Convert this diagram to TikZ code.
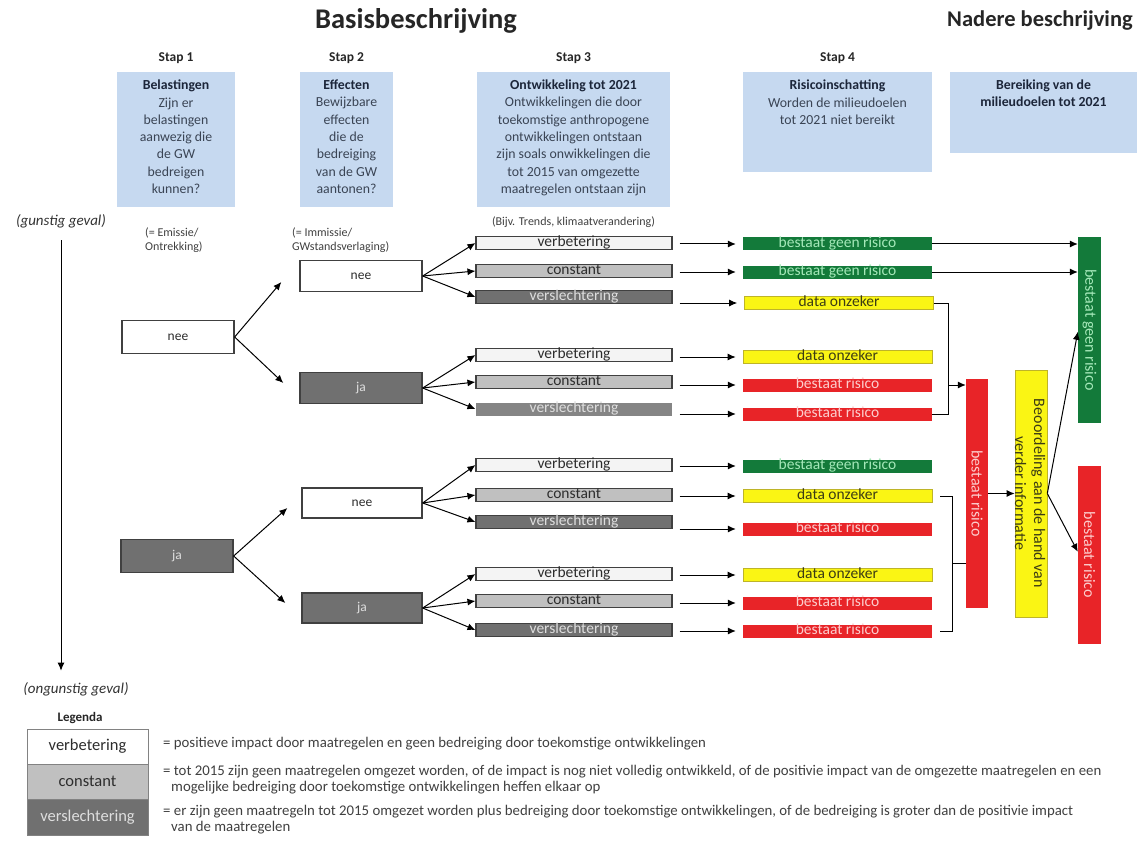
\documentclass[tikz,border=0pt]{standalone}
\usepackage{fontspec}
\setmainfont{Carlito}
\usetikzlibrary{calc,arrows.meta}
\pgfdeclarelayer{bg}
\pgfsetlayers{bg,main}
\definecolor{bluefill}{RGB}{198,217,240}
\definecolor{bluehead}{RGB}{28,38,58}
\definecolor{bluebody}{RGB}{58,68,84}
\definecolor{gfill}{RGB}{19,122,58}
\definecolor{gtext}{RGB}{165,232,185}
\definecolor{yfill}{RGB}{250,245,20}
\definecolor{ybord}{RGB}{190,180,40}
\definecolor{ytext}{RGB}{60,60,20}
\definecolor{rfill}{RGB}{232,36,40}
\definecolor{rtext}{RGB}{252,205,205}
\definecolor{dgray}{RGB}{112,112,112}
\definecolor{mgray}{RGB}{192,192,192}
\definecolor{lgray}{RGB}{244,244,244}
\definecolor{bord}{RGB}{64,64,64}
\definecolor{darktext}{RGB}{45,45,45}
\definecolor{palegray}{RGB}{222,222,222}
\definecolor{legbord}{RGB}{130,130,130}
\begin{document}
\begin{tikzpicture}[x=1pt,y=-1pt,
  arr/.style={-{Latex[length=8pt,width=7pt]}, line width=1pt},
  ln/.style={line width=1pt},
  bluebox/.style={fill=bluefill, draw=none, inner sep=0},
  bluetxt/.style={align=center, text=bluebody, font=\fontsize{13.8}{17.3}\selectfont, inner sep=0, anchor=north},
  stap/.style={font=\bfseries\fontsize{13.5}{15}\selectfont, text=black!85},
  note/.style={font=\fontsize{12}{14}\selectfont, text=black!75, align=left, inner sep=0},
  dec/.style={draw=bord, line width=1.3pt, minimum width=112, minimum height=33, inner sep=0, font=\fontsize{13.5}{15}\selectfont},
  decw/.style={dec, fill=white, text=darktext},
  decd/.style={dec, fill=dgray, text=palegray},
  row3/.style={draw=bord, line width=1.1pt, minimum width=196, minimum height=13, inner sep=0, text height=7, text depth=0, font=\fontsize{15.5}{16}\selectfont},
  verb/.style={row3, fill=lgray, text=darktext},
  cons/.style={row3, fill=mgray, text=darktext},
  versl/.style={row3, fill=dgray, text=palegray},
  row4/.style={minimum width=189, minimum height=13, inner sep=0, text height=7, text depth=0, font=\fontsize{15.5}{16}\selectfont},
  geen/.style={row4, fill=gfill, text=gtext},
  onz/.style={row4, fill=yfill, draw=ybord, line width=0.6pt, text=ytext},
  risk/.style={row4, fill=rfill, text=rtext},
  vtxt/.style={rotate=-90, font=\fontsize{16}{19}\selectfont, align=center, inner sep=0},
  legbox/.style={draw=legbord, line width=1pt, minimum width=121, inner sep=0, font=\fontsize{16.5}{18}\selectfont},
  legtxt/.style={font=\fontsize{14.8}{16}\selectfont, text=black!75, align=left, inner sep=0, anchor=north west}
]
\fill[white] (0,0) rectangle (1142,842);
\useasboundingbox (0,0) rectangle (1142,842);

% titles
\node[font=\bfseries\fontsize{28.5}{32}\selectfont, text=black!85] (title) at (416,21) {Basisbeschrijving};
\node[font=\bfseries\fontsize{22.5}{26}\selectfont, text=black!85] (title2) at (1040,21) {Nadere beschrijving};

\node[stap] (st1) at (176,58) {Stap 1};
\node[stap] (st2) at (346.5,58) {Stap 2};
\node[stap] (st3) at (573.5,58) {Stap 3};
\node[stap] (st4) at (837.5,58) {Stap 4};

% blue boxes
\node[bluebox, minimum width=118, minimum height=135] (b1) at (176,139.5) {};
\node[bluebox, minimum width=93, minimum height=135] (b2) at (346.5,139.5) {};
\node[bluebox, minimum width=193, minimum height=135] (b3) at (573.5,139.5) {};
\node[bluebox, minimum width=189, minimum height=100] (b4) at (837.5,122) {};
\node[bluebox, minimum width=187, minimum height=81] (b5) at (1043.5,112.5) {};
\node[bluetxt] (b1t) at ([yshift=-8]b1.north) {\textcolor{bluehead}{\textbf{Belastingen}}\\Zijn er\\belastingen\\aanwezig die\\de GW\\bedreigen\\kunnen?};
\node[bluetxt] (b2t) at ([yshift=-8]b2.north) {\textcolor{bluehead}{\textbf{Effecten}}\\Bewijzbare\\effecten\\die de\\bedreiging\\van de GW\\aantonen?};
\node[bluetxt] (b3t) at ([yshift=-8]b3.north) {\textcolor{bluehead}{\textbf{Ontwikkeling tot 2021}}\\Ontwikkelingen die door\\toekomstige anthropogene\\ontwikkelingen ontstaan\\zijn soals onwikkelingen die\\tot 2015 van omgezette\\maatregelen ontstaan zijn};
\node[bluetxt] (b4t) at ([yshift=-8]b4.north) {\textcolor{bluehead}{\textbf{Risicoinschatting}}\\Worden de milieudoelen\\tot 2021 niet bereikt};
\node[bluetxt, text=bluehead, font=\bfseries\fontsize{13.8}{17.3}\selectfont] (b5t) at ([yshift=-8]b5.north) {Bereiking van de\\milieudoelen tot 2021};

% notes
\node[note, anchor=north west] (n1) at (145,228) {(= Emissie/\\Ontrekking)};
\node[note, anchor=north west] (n2) at (292,228) {(= Immissie/\\GWstandsverlaging)};
\node[note] (n3) at (573.5,222) {(Bijv. Trends, klimaatverandering)};

% axis
\node[font=\itshape\fontsize{15}{17}\selectfont, text=black!80] (gun) at (61,221) {(gunstig geval)};
\node[font=\itshape\fontsize{15}{17}\selectfont, text=black!80] (ongun) at (76,689) {(ongunstig geval)};
\draw[arr, shorten <=9pt, shorten >=8pt] (gun.south) -- (gun.south |- ongun.north);

% stap 1
\node[decw] (s1n) at (178,337) {nee};
\node[decd] (s1j) at (177,556) {ja};
% stap 2
\node[decw, minimum width=122, minimum height=31] (s2a) at (361,276) {nee};
\node[decd, minimum width=122, minimum height=31] (s2b) at (361,388) {ja};
\node[decw, minimum width=120, minimum height=30] (s2c) at (362,503) {nee};
\node[decd, minimum width=120, minimum height=30] (s2d) at (362,608) {ja};

\draw[arr] (s1n.east) -- ($(s2a.west)+(-18,6)$);
\draw[arr] (s1n.east) -- ($(s2b.west)+(-16,-5)$);
\draw[arr] (s1j.east) -- ($(s2c.west)+(-14,5)$);
\draw[arr] (s1j.east) -- ($(s2d.west)+(-16,-5)$);

% stap 3
\node[verb] (v1) at (574,243) {verbetering};
\node[cons] (c1) at (574,271) {constant};
\node[versl] (w1) at (574,297) {verslechtering};
\node[verb] (v2) at (574,355) {verbetering};
\node[cons] (c2) at (574,382) {constant};
\node[versl, draw=none, fill=dgray!85] (w2) at (574,409) {verslechtering};
\node[verb] (v3) at (574,465) {verbetering};
\node[cons] (c3) at (574,495) {constant};
\node[versl] (w3) at (574,522) {verslechtering};
\node[verb] (v4) at (574,574) {verbetering};
\node[cons] (c4) at (574,601) {constant};
\node[versl] (w4) at (574,630) {verslechtering};

\foreach \s/\t in {s2a/v1,s2a/c1,s2a/w1,s2b/v2,s2b/c2,s2b/w2,s2c/v3,s2c/c3,s2c/w3,s2d/v4,s2d/c4,s2d/w4}
  \draw[arr] (\s.east) -- (\t.west);

% stap 4
\node[geen] (r1a) at (837.5,244) {bestaat geen risico};
\node[geen] (r1b) at (837.5,272) {bestaat geen risico};
\node[onz] (r1c) at (839,303) {data onzeker};
\node[onz] (r2a) at (837.5,357) {data onzeker};
\node[risk] (r2b) at (837.5,385) {bestaat risico};
\node[risk] (r2c) at (837.5,414) {bestaat risico};
\node[geen] (r3a) at (837.5,466) {bestaat geen risico};
\node[onz] (r3b) at (837.5,496) {data onzeker};
\node[risk] (r3c) at (837.5,529) {bestaat risico};
\node[onz] (r4a) at (837.5,575) {data onzeker};
\node[risk] (r4b) at (837.5,603) {bestaat risico};
\node[risk] (r4c) at (837.5,631) {bestaat risico};

\foreach \a/\b in {v1/r1a,c1/r1b,w1/r1c,v2/r2a,c2/r2b,w2/r2c,v3/r3a,c3/r3b,w3/r3c,v4/r4a,c4/r4b,w4/r4c}
  \draw[arr] ($(\a.east|-\b.west)+(7,0)$) -- ($(\b.west)+(-7,0)$);

% right column
\node[fill=gfill, minimum width=23, minimum height=186, inner sep=0] (bigG) at (1089.5,330) {};
\node[vtxt, text=gtext] (bigGt) at (bigG.center) {bestaat geen risico};
\node[fill=rfill, minimum width=23, minimum height=178, inner sep=0] (bigR) at (1089.5,555) {};
\node[vtxt, text=rtext] (bigRt) at (bigR.center) {bestaat risico};
\node[fill=rfill, minimum width=22, minimum height=229, inner sep=0] (redM) at (977,493.5) {};
\node[vtxt, text=rtext] (redMt) at (redM.center) {bestaat risico};
\node[fill=yfill, draw=ybord, line width=0.6pt, minimum width=32, minimum height=247, inner sep=0] (yel) at (1031,493.5) {};
\node[vtxt, text=ytext] (yelt) at ([xshift=-1]yel.center) {Beoordeling aan de hand van\\verder informatie};

\coordinate (tG1) at ($(bigG.north west)+(0,72)$);
\coordinate (tG2) at ($(bigG.north west)+(0,95)$);
\coordinate (tR) at ($(bigR.north west)+(0,86)$);
\coordinate (br1) at ($(r1c.east)+(15,0)$);
\coordinate (br2) at ($(r3b.east)+(20,0)$);
\coordinate (b2m) at ($(redM.south west)+(0,-45)$);

\begin{pgfonlayer}{bg}
\draw[arr] (r3a.east) -- (tG1);
\end{pgfonlayer}
\draw[arr] (r1a.east) -- (r1a.east -| bigG.west);
\draw[arr] (r1b.east) -- (r1b.east -| bigG.west);
\draw[ln] (r1c.east) -- (br1) |- (r2c.east);
\draw[arr] (br1 |- r2b.east) -- (redM.west |- r2b.east);
\draw[ln] ($(r3b.east)+(8,0)$) -- (br2) |- ($(r4c.east)+(8,0)$);
\draw[ln] (br2 |- b2m) -- (b2m);
\draw[arr] (redM.east |- yel.west) -- (yel.west);
\draw[arr] (yel.east) -- (tG2);
\draw[arr] (yel.east) -- (tR);

% legend
\node[font=\bfseries\fontsize{13}{15}\selectfont, text=black!85] (leg) at (80,718) {Legenda};
\node[legbox, fill=white, text=darktext, minimum height=35] (lv) at (87.5,746.5) {verbetering};
\node[legbox, fill=mgray, text=darktext, minimum height=35] (lc) at (87.5,781.5) {constant};
\node[legbox, fill=dgray, text=palegray, minimum height=36] (lw) at (87.5,817) {verslechtering};
\node[legtxt] (d1) at (163,737) {= positieve impact door maatregelen en geen bedreiging door toekomstige ontwikkelingen};
\node[legtxt] (d2) at (163,765) {= tot 2015 zijn geen maatregelen omgezet worden, of de impact is nog niet volledig ontwikkeld, of de positivie impact van de omgezette maatregelen en een\\\hspace*{8pt}mogelijke bedreiging door toekomstige ontwikkelingen heffen elkaar op};
\node[legtxt] (d3) at (163,805) {= er zijn geen maatregeln tot 2015 omgezet worden plus bedreiging door toekomstige ontwikkelingen, of de bedreiging is groter dan de positivie impact\\\hspace*{8pt}van de maatregelen};
\end{tikzpicture}
\end{document}
